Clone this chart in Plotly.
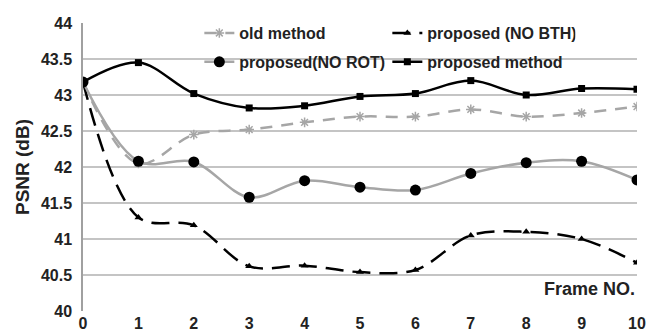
import plotly.graph_objects as go

frames = list(range(11))
old_method = [43.18, 42.05, 42.45, 42.52, 42.62, 42.70, 42.70, 42.80, 42.70, 42.75, 42.84]
no_bth = [43.18, 41.30, 41.19, 40.62, 40.63, 40.54, 40.57, 41.05, 41.10, 41.00, 40.67]
no_rot = [43.18, 42.08, 42.07, 41.58, 41.81, 41.72, 41.68, 41.91, 42.06, 42.08, 41.82]
proposed = [43.18, 43.45, 43.02, 42.82, 42.85, 42.98, 43.02, 43.20, 43.00, 43.09, 43.08]
y_ticks = [40, 40.5, 41, 41.5, 42, 42.5, 43, 43.5, 44]
y_labels = ["40", "40.5", "41", "41.5", "42", "42.5", "43", "43.5", "44"]

fig = go.Figure()
fig.add_trace(go.Scatter(x=frames, y=old_method, name="<b>old method</b>", mode="lines+markers",
                         legend="legend",
                         line=dict(color="#a6a6a6", width=2.5, dash="12px,9px", shape="spline"),
                         marker=dict(symbol="asterisk-open", size=8, color="#a6a6a6", line=dict(width=1.5, color="#a6a6a6"))))
fig.add_trace(go.Scatter(x=frames, y=no_bth, name="<b>proposed (NO BTH)</b>", mode="lines+markers",
                         legend="legend",
                         line=dict(color="black", width=2.5, dash="18px,9px", shape="spline"),
                         marker=dict(symbol="triangle-up", size=7, color="black")))
fig.add_trace(go.Scatter(x=frames, y=no_rot, name="<b>proposed(NO ROT)</b>", mode="lines+markers",
                         legend="legend2",
                         line=dict(color="#a6a6a6", width=2.5, shape="spline"),
                         marker=dict(symbol="circle", size=11, color="black")))
fig.add_trace(go.Scatter(x=frames, y=proposed, name="<b>proposed method</b>", mode="lines+markers",
                         legend="legend2",
                         line=dict(color="black", width=2.5, shape="spline"),
                         marker=dict(symbol="square", size=7, color="black")))

leg_common = dict(orientation="h", xanchor="left", yanchor="middle",
                  bgcolor="rgba(0,0,0,0)", entrywidth=143, itemwidth=30,
                  font=dict(size=16, family="Liberation Sans, Arial", color="#222"))

fig.update_layout(
    width=657, height=332,
    margin=dict(l=83, r=20, t=23, b=21),
    paper_bgcolor="white", plot_bgcolor="white",
    font=dict(family="Liberation Sans, Arial", color="#222", size=13),
    showlegend=True,
    legend=dict(x=0.21, y=0.965, **leg_common),
    legend2=dict(x=0.21, y=0.865, **leg_common),
    xaxis=dict(range=[0, 10], tickvals=frames, ticktext=[f"<b>{f}</b>" for f in frames],
               showgrid=False, zeroline=False, automargin=False,
               showline=False, ticks="", tickfont=dict(size=16), ticklabelstandoff=1),
    yaxis=dict(range=[40, 44], tickvals=y_ticks, ticktext=[f"<b>{t}</b>" for t in y_labels],
               showgrid=True, gridcolor="#c4c4c4", gridwidth=1.5, automargin=False,
               zeroline=False, showline=True, linecolor="#a0a0a0", linewidth=1.5, ticks="",
               tickfont=dict(size=16), ticklabelstandoff=6,
               title=dict(text="<b>PSNR (dB)</b>", font=dict(size=19), standoff=6)),
    annotations=[dict(text="<b>Frame NO.</b>", x=10, y=40.3, xref="x", yref="y", xanchor="right",
                      yanchor="middle", showarrow=False, font=dict(size=18, color="#222"))],
)
fig.write_html("out.html")
